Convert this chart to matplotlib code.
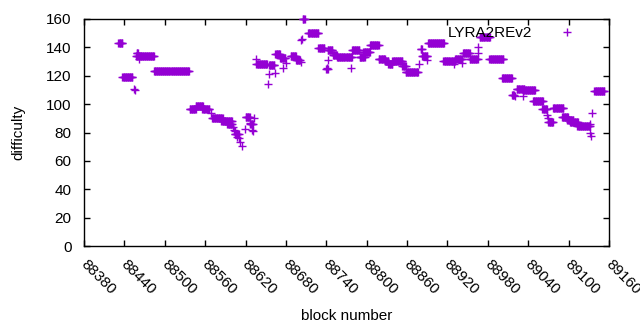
import numpy as np
import matplotlib
matplotlib.use("Agg")
import matplotlib.pyplot as plt
from matplotlib.transforms import ScaledTranslation

plt.rcParams['font.family'] = ['Liberation Sans', 'DejaVu Sans']

# Plateaus: consecutive blocks sharing one difficulty (start block, end block, difficulty)
run_start = [88431, 88437, 88457, 88458, 88484, 88537, 88546, 88556, 88570, 88584,
             88593, 88604, 88620, 88627, 88636, 88655, 88664, 88671, 88687, 88695,
             88705, 88713, 88728, 88740, 88742, 88750, 88756, 88778, 88790, 88795,
             88805, 88818, 88827, 88832, 88838, 88853, 88858, 88880, 88882, 88891,
             88914, 88931, 88943, 88953, 88968, 88982, 89001, 89016, 89023, 89032,
             89047, 89061, 89070, 89077, 89090, 89098, 89102, 89113, 89138]
run_end = [88437, 88452, 88484, 88460, 88536, 88546, 88557, 88566, 88586, 88600,
           88600, 88610, 88626, 88631, 88652, 88663, 88671, 88679, 88695, 88701,
           88708, 88728, 88737, 88742, 88749, 88756, 88778, 88789, 88797, 88805,
           88818, 88827, 88832, 88838, 88853, 88858, 88876, 88882, 88890, 88915,
           88931, 88942, 88953, 88965, 88983, 89003, 89016, 89019, 89034, 89050,
           89062, 89068, 89077, 89092, 89099, 89107, 89114, 89132, 89153]
run_diff = [143, 119, 134, 136, 123, 96.5, 99, 96.5, 90.5, 88,
            86, 79, 91, 86, 128, 127.5, 135, 132.5, 134, 131,
            160, 150, 139.5, 125, 138.5, 134.6, 133.5, 138.5, 133.5, 137,
            141.6, 132, 130.7, 128, 130.4, 127, 122.6, 139, 134, 143.4,
            130.4, 132, 135.7, 132, 147, 132, 118.7, 106.4, 111, 110,
            102, 96.5, 87.4, 97, 91, 88.8, 87.4, 84.6, 109]

# Isolated blocks
point_block = [88455, 88456, 88461, 88568, 88602, 88603, 88605, 88608, 88611, 88612,
               88615, 88619, 88626, 88630, 88631, 88632, 88636, 88654, 88655, 88664,
               88675, 88680, 88702, 88703, 88704, 88741, 88743, 88777, 88790, 88877,
               88889, 88929, 88942, 88965, 88966, 89020, 89032, 89068, 89069, 89132,
               89132, 89133, 89134]
point_diff = [111, 110, 132, 94, 84, 82, 81, 77, 76, 73,
              70.5, 82.5, 87, 82, 81, 90, 132, 114, 121, 122,
              125.5, 129, 130, 145, 146, 125.5, 131, 125.5, 133, 128,
              131, 128, 129, 140, 136, 106, 106, 92, 90, 86,
              79.5, 77.5, 94]

x_ticks = list(range(88380, 89161, 60))
y_ticks = list(range(0, 161, 20))

blocks = []
diffs = []
for s, e, d in zip(run_start, run_end, run_diff):
    b = np.arange(s, e + 1)
    blocks.append(b)
    diffs.append(np.full(len(b), d))
blocks.append(np.array(point_block))
diffs.append(np.array(point_diff))
blocks = np.concatenate(blocks)
diffs = np.concatenate(diffs)

FS = 11

fig = plt.figure(figsize=(6.4, 3.3), dpi=100)
ax = fig.add_axes([84 / 640, (330 - 246) / 330, (609 - 84) / 640, (246 - 19) / 330])

ax.plot(blocks, diffs, linestyle='none', marker='+', ms=6, mew=1,
        color='#9400D3', label='LYRA2REv2', clip_on=False, zorder=3)

ax.set_xlim(88380, 89160)
ax.set_ylim(0, 160)
ax.set_xticks(x_ticks)
ax.set_xticklabels([str(t) for t in x_ticks], rotation=-45, ha='left', va='center',
                   rotation_mode='anchor', fontsize=FS)
ax.set_yticks(y_ticks)
ax.set_yticklabels([str(t) for t in y_ticks], fontsize=FS)
ax.tick_params(direction='in', length=4.5, width=1, top=True, right=True)
ax.tick_params(axis='y', pad=9)
ax.tick_params(axis='x', pad=12)
for lab in ax.get_xticklabels():
    lab.set_transform(lab.get_transform() + ScaledTranslation(-1 / 100, 0, fig.dpi_scale_trans))
for sp in ax.spines.values():
    sp.set_linewidth(1)

ax.set_xlabel('block number', fontsize=FS, labelpad=8)
ax.set_ylabel('difficulty', fontsize=FS, labelpad=15)

ax.legend(loc='upper right', bbox_to_anchor=(0.949, 0.969), frameon=False,
          markerfirst=False, fontsize=FS, borderpad=0, borderaxespad=0,
          handletextpad=1.25, handlelength=2)

fig.savefig('out.png', dpi=100)
